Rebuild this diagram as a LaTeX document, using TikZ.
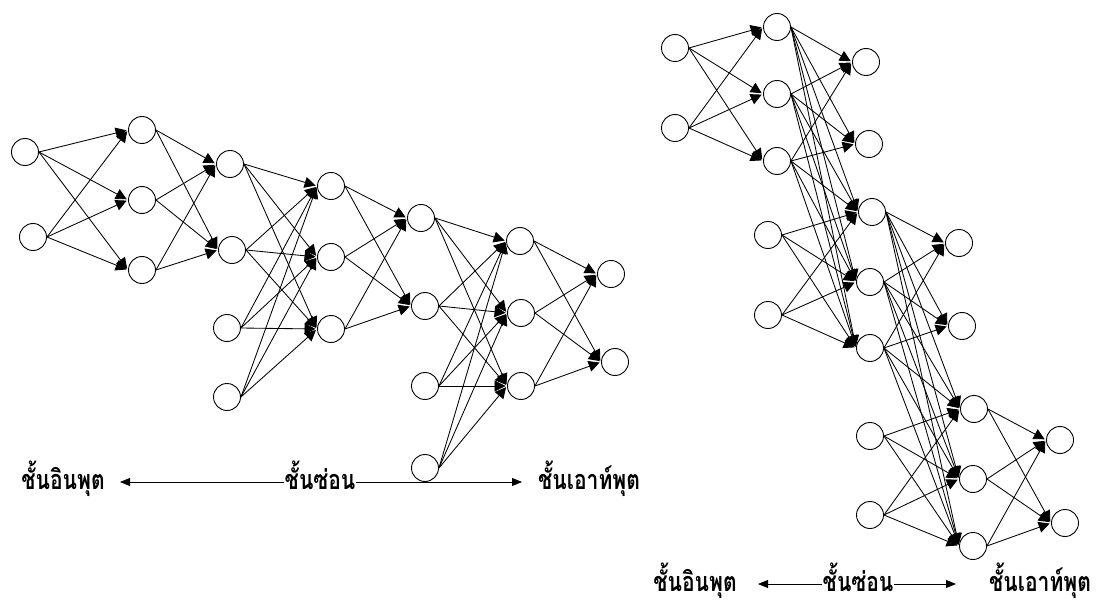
\documentclass[tikz,border=0pt]{standalone}
\usepackage{fontspec}
\newfontfamily\thaifont[Script=Thai,FakeStretch=0.78]{Loma}
\usetikzlibrary{arrows.meta,calc}
\newcommand\fullconn[2]{\foreach \s in {#1}{\foreach \t in {#2}{\draw[conn] (\s.east) -- (\t.west);}}}
\begin{document}
\begin{tikzpicture}[x=1pt,y=-1pt,
  neuron/.style={circle,draw,line width=0.9pt,minimum size=27pt,inner sep=0pt},
  conn/.style={line width=0.85pt,-{Triangle[length=11pt,width=11pt]},shorten >=1.5pt},
  lbl/.style={font=\thaifont\bfseries\fontsize{27}{30}\selectfont,inner sep=0pt,anchor=base},
  lblarrow/.style={line width=0.8pt,-{Triangle[length=10pt,width=8pt]}}]
\useasboundingbox (0,0) rectangle (1096,607);
% ---------- left network ----------
\node[neuron] (I1) at (25,152) {};
\node[neuron] (I2) at (33,237) {};
\node[neuron] (A1) at (142,130) {};
\node[neuron] (A2) at (142,200) {};
\node[neuron] (A3) at (142,270) {};
\node[neuron] (B1) at (230,164) {};
\node[neuron] (B2) at (232,250) {};
\node[neuron] (XB1) at (227,328) {};
\node[neuron] (XB2) at (227,397) {};
\node[neuron] (C1) at (331,186) {};
\node[neuron] (C2) at (331,257) {};
\node[neuron] (C3) at (331,329) {};
\node[neuron] (D1) at (421,218) {};
\node[neuron] (D2) at (425,306) {};
\node[neuron] (XD1) at (425,386) {};
\node[neuron] (XD2) at (425,468) {};
\node[neuron] (E1) at (520,241) {};
\node[neuron] (E2) at (521,313) {};
\node[neuron] (E3) at (521,386) {};
\node[neuron] (F1) at (611,274) {};
\node[neuron] (F2) at (615,362) {};
\fullconn{I1,I2}{A1,A2,A3}
\fullconn{A1,A2,A3}{B1,B2}
\fullconn{B1,B2,XB1,XB2}{C1,C2,C3}
\fullconn{C1,C2,C3}{D1,D2}
\fullconn{D1,D2,XD1,XD2}{E1,E2,E3}
\fullconn{E1,E2,E3}{F1,F2}
% ---------- right network ----------
\node[neuron] (P1) at (675,48) {};
\node[neuron] (P2) at (675,128) {};
\node[neuron] (Q1) at (777,27) {};
\node[neuron] (Q2) at (777,94) {};
\node[neuron] (Q3) at (777,161) {};
\node[neuron] (R1) at (866,62) {};
\node[neuron] (R2) at (869,144) {};
\node[neuron] (XS1) at (768,235) {};
\node[neuron] (XS2) at (768,315) {};
\node[neuron] (S1) at (872,212) {};
\node[neuron] (S2) at (870,282) {};
\node[neuron] (S3) at (870,348) {};
\node[neuron] (T1) at (959,243) {};
\node[neuron] (T2) at (962,326) {};
\node[neuron] (XU1) at (870,436) {};
\node[neuron] (XU2) at (870,515) {};
\node[neuron] (U1) at (974,409) {};
\node[neuron] (U2) at (973,479) {};
\node[neuron] (U3) at (973,546) {};
\node[neuron] (V1) at (1060,440) {};
\node[neuron] (V2) at (1065,523) {};
\fullconn{P1,P2}{Q1,Q2,Q3}
\fullconn{Q1,Q2,Q3}{R1,R2}
\fullconn{Q1,Q2,Q3,XS1,XS2}{S1,S2,S3}
\fullconn{S1,S2,S3}{T1,T2}
\fullconn{S1,S2,S3,XU1,XU2}{U1,U2,U3}
\fullconn{U1,U2,U3}{V1,V2}
% ---------- labels ----------
\node[lbl] (LL1) at (63,489) {ชั้นอินพุต};
\node[lbl] (LL2) at (320,489) {ชั้นซ่อน};
\node[lbl] (LL3) at (589,489) {ชั้นเอาท์พุต};
\coordinate (LT1) at (120,482);
\coordinate (LT2) at (522,482);
\draw[lblarrow] (LL2.west |- LT1) -- (LT1);
\draw[lblarrow] (LL2.east |- LT2) -- (LT2);
\node[lbl] (RL1) at (695,591) {ชั้นอินพุต};
\node[lbl] (RL2) at (858,591) {ชั้นซ่อน};
\node[lbl] (RL3) at (1040,591) {ชั้นเอาท์พุต};
\coordinate (RT1) at (758,584);
\coordinate (RT2) at (956,584);
\draw[lblarrow] (RL2.west |- RT1) -- (RT1);
\draw[lblarrow] (RL2.east |- RT2) -- (RT2);
\end{tikzpicture}
\end{document}
